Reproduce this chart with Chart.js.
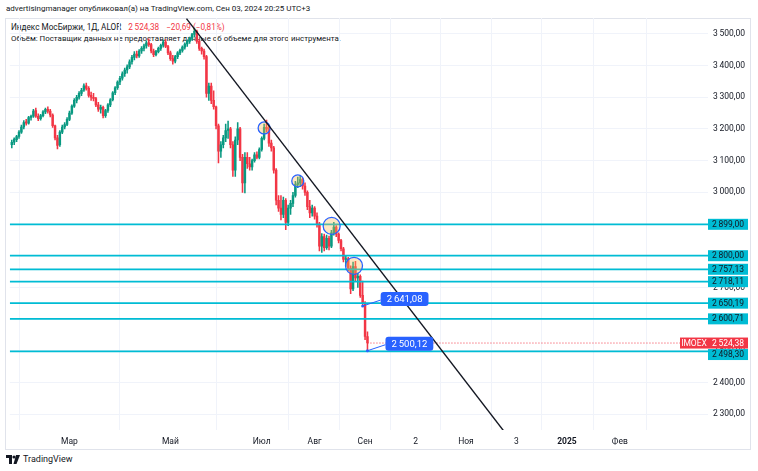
<!DOCTYPE html>
<html><head><meta charset="utf-8">
<script src="https://cdn.jsdelivr.net/npm/chart.js@4"></script>
<style>
html,body{margin:0;padding:0;background:#fff;}
#wrap{position:relative;width:758px;height:471px;overflow:hidden;font-family:Roboto,"Noto Sans",sans-serif;}
canvas{position:absolute;left:0;top:0;z-index:2}
.t{position:absolute;white-space:nowrap;color:#131722;z-index:1;line-height:1}
</style></head><body>
<div id="wrap">
<div class="t" style="left:6px;top:5px;font-size:8px">advertisingmanager опубликовал(а) на TradingView.com, Сен 03, 2024 20:25 UTC+3</div>
<div class="t" style="left:11px;top:23px;font-size:8.2px">Индекс МосБиржи, 1Д, ALOR<span style="color:#f23645;margin-left:7px">2&#8201;524,38</span><span style="color:#f23645;margin-left:7px">−20,69 (−0,81%)</span></div>
<div class="t" style="left:11px;top:35px;font-size:7.9px">Объём: Поставщик данных не предоставляет данные об объеме для этого инструмента.</div>
<div class="t" style="left:6px;top:455px;font-size:9px;display:flex;align-items:center;gap:3px">
<svg width="14" height="9" viewBox="0 0 14 9"><rect x="0" y="0" width="6" height="3" fill="#131722"/><rect x="3" y="0" width="3" height="9" fill="#131722"/><circle cx="8" cy="2" r="1.6" fill="#131722"/><polygon points="10,0 14,0 10.5,9 7.5,9" fill="#131722"/></svg><span>TradingView</span></div>
<canvas id="c" width="758" height="471"></canvas>
</div>
<script>
// ---- data ----
const opens  = [3150,3158,3166,3176,3190,3206,3222,3218,3236,3240,3258,3240,3232,3242,3254,3262,3256,3244,3210,3172,
3150,3190,3206,3214,3230,3250,3272,3290,3300,3312,3322,3336,3328,3306,3300,3296,3276,3262,3268,3242,
3258,3276,3292,3314,3330,3348,3360,3374,3386,3396,3412,3426,3436,3430,3446,3454,3462,3472,3466,3446,
3434,3444,3454,3464,3474,3460,3440,3422,3414,3428,3440,3448,3458,3468,3476,3486,3498,3508,3476,3454,
3446,3428,3312,3335,3290,3270,3210,3130,3150,3172,3195,3200,3150,3070,3165,3200,3110,3030,3110,3090,
3080,3100,3118,3110,3135,3170,3205,3200,3155,3140,3070,2975,2950,2930,2975,2905,2950,2965,2990,3025,
3030,3040,3020,3000,2955,2935,2950,2925,2900,2830,2860,2825,2855,2830,2872,2890,2868,2848,2822,2788,
2790,2760,2695,2766,2730,2735,2675,2650,2545.07];
const highs  = [3165,3172,3180,3195,3212,3226,3230,3240,3244,3262,3266,3248,3246,3258,3266,3270,3262,3248,3212,3180,
3195,3212,3220,3236,3256,3276,3296,3306,3318,3328,3342,3345,3334,3316,3312,3300,3284,3275,3272,3262,
3280,3296,3318,3334,3352,3366,3380,3392,3402,3418,3432,3444,3446,3450,3460,3468,3478,3484,3470,3452,
3448,3458,3468,3480,3482,3464,3446,3432,3432,3444,3452,3462,3472,3480,3490,3502,3518,3512,3482,3458,
3452,3432,3345,3345,3320,3272,3215,3160,3180,3215,3225,3205,3160,3175,3220,3205,3120,3125,3125,3110,
3105,3125,3128,3140,3175,3215,3228,3210,3165,3145,3075,2990,2990,2985,2980,2960,2975,3000,3035,3048,
3052,3045,3030,3005,2975,2960,2955,2935,2905,2870,2868,2865,2862,2880,2905,2895,2872,2852,2826,2798,
2795,2768,2780,2782,2745,2740,2720,2655,2560];
const lows   = [3140,3150,3160,3170,3186,3200,3212,3215,3228,3236,3236,3226,3228,3238,3248,3250,3238,3205,3165,3137,
3145,3185,3200,3210,3226,3246,3268,3282,3294,3305,3318,3322,3300,3290,3288,3270,3255,3250,3235,3236,
3252,3270,3288,3308,3325,3340,3354,3366,3376,3390,3404,3418,3424,3426,3438,3446,3455,3460,3440,3428,
3430,3440,3448,3458,3456,3434,3416,3404,3408,3422,3434,3442,3452,3460,3470,3480,3490,3470,3448,3436,
3420,3300,3290,3280,3262,3200,3093,3110,3140,3160,3170,3140,3050,3050,3150,3100,3000,2998,3075,3070,
3070,3095,3105,3105,3130,3165,3190,3145,3130,3060,2960,2940,2913,2920,2882,2895,2930,2955,2985,3015,
3018,3010,2990,2945,2920,2925,2915,2890,2815,2810,2815,2820,2818,2825,2865,2860,2840,2815,2780,2766,
2752,2680,2690,2720,2700,2668,2641.08,2535,2500.12];
const closes = [3158,3168,3176,3190,3206,3220,3218,3236,3240,3256,3240,3232,3242,3254,3262,3256,3244,3210,3172,3148,
3190,3206,3214,3230,3250,3272,3290,3300,3312,3322,3336,3328,3306,3300,3296,3276,3262,3268,3242,3258,
3276,3292,3314,3330,3348,3360,3374,3386,3396,3412,3426,3436,3430,3446,3454,3462,3472,3466,3446,3434,
3444,3454,3464,3474,3460,3440,3422,3414,3428,3440,3448,3458,3468,3476,3486,3498,3508,3476,3454,3446,
3428,3312,3335,3290,3270,3210,3130,3150,3172,3195,3200,3150,3070,3165,3200,3110,3030,3110,3090,3080,
3100,3118,3110,3135,3170,3205,3200,3155,3140,3070,2975,2950,2930,2975,2905,2950,2965,2990,3025,3030,
3040,3020,3000,2955,2935,2950,2925,2900,2830,2860,2825,2855,2830,2872,2890,2868,2848,2822,2788,2790,
2760,2695,2766,2730,2735,2675,2650,2545.07,2524.38];

const levels = [2899.00, 2800.00, 2757.13, 2718.11, 2650.19, 2600.71, 2498.30];
const lastPrice = 2524.38;
const symbolName = 'IMOEX';
const trendX = [72.7, 205];
const trendY = [3548, 2244];
const circleX = [105.0, 119.0, 133.1, 142.4];
const circleY = [3203, 3036, 2894, 2768];
const calloutX = [146, 148];
const calloutY = [2641.08, 2500.12];
const monthTickX = [24, 66, 104, 126, 147, 168, 189, 210, 231, 253];
const monthTickLabels = ['Мар','Май','Июл','Авг','Сен','2','Ноя','3','2025','Фев'];
const priceTicks = [2300,2400,2500,2600,2700,2800,2900,3000,3100,3200,3300,3400,3500];

// ---- helpers ----
const X_MIN = -0.83, X_MAX = 289.7, Y_MIN = 2250, Y_MAX = 3550;
const UP = '#089981', DOWN = '#f23645', CYAN = '#00bcd4', BLUE = '#2962ff';
function fmt(n){
  const s = n.toFixed(2).replace('.', ',');
  const [i, d] = s.split(',');
  const ii = i.length > 3 ? i.slice(0, i.length-3) + '\u2009' + i.slice(-3) : i;
  return ii + ',' + d;
}
const FONT = 'Roboto, "Noto Sans", sans-serif';
const candleColors = closes.map((c, i) => c >= opens[i] ? UP : DOWN);

const datasets = [];
datasets.push({
  type:'line', order:1, data: trendX.map((x,i)=>({x, y:trendY[i]})),
  borderColor:'#131722', borderWidth:1.4, pointRadius:0, tension:0
});
datasets.push({
  type:'scatter', order:2, data: circleX.map((x,i)=>({x, y:circleY[i]})),
  pointRadius:[6,6,8.5,8.5], pointBackgroundColor:'rgba(255,183,77,0.35)',
  pointBorderColor:BLUE, pointBorderWidth:1.3
});
levels.forEach(lv => datasets.push({
  type:'line', order:3, data:[{x:X_MIN,y:lv},{x:X_MAX,y:lv}],
  borderColor:CYAN, borderWidth:1.8, pointRadius:0
}));
datasets.push({
  type:'line', order:4, data:[{x:closes.length-1,y:lastPrice},{x:X_MAX,y:lastPrice}],
  borderColor:DOWN, borderWidth:1, borderDash:[1,2], pointRadius:0
});
datasets.push({
  type:'bar', order:5, grouped:false, barThickness:1.8, minBarLength:1,
  data: opens.map((o,i)=>({x:i, y:[o, closes[i]]})),
  backgroundColor: candleColors, borderWidth:0
});
datasets.push({
  type:'bar', order:6, grouped:false, barThickness:0.9,
  data: lows.map((l,i)=>({x:i, y:[l, highs[i]]})),
  backgroundColor: candleColors, borderWidth:0
});

const overlay = {
  id:'overlay',
  beforeDraw(chart){
    const {ctx} = chart;
    ctx.save();
    ctx.strokeStyle = '#e0e3eb'; ctx.lineWidth = 1;
    ctx.strokeRect(5.5, 18.5, 745, 431);
    ctx.restore();
  },
  afterDraw(chart){
    const {ctx, chartArea:a, scales:{x, y}} = chart;
    ctx.save();
    ctx.font = '8.5px ' + FONT;
    ctx.textBaseline = 'middle';
    ctx.textAlign = 'center';
    const H = 11;
    const py = y.getPixelForValue(lastPrice);
    levels.forEach(lv => {
      let ly = y.getPixelForValue(lv);
      if (Math.abs(ly - py) < H) ly = ly > py ? py + H + 0.5 : py - H - 0.5;
      ctx.fillStyle = CYAN;
      ctx.fillRect(a.right, ly - H/2, 40, H);
      ctx.fillStyle = '#131722';
      ctx.fillText(fmt(lv), a.right + 20, ly + 0.5);
    });
    ctx.fillStyle = DOWN;
    ctx.fillRect(a.right, py - H/2, 40, H);
    ctx.fillRect(a.right - 28, py - H/2, 28, H);
    ctx.fillStyle = '#fff';
    ctx.fillText(fmt(lastPrice), a.right + 20, py + 0.5);
    ctx.fillText(symbolName, a.right - 14, py + 0.5);
    ctx.font = '9.5px ' + FONT;
    calloutX.forEach((cx, i) => {
      const ax = x.getPixelForValue(cx), ay = y.getPixelForValue(calloutY[i]);
      const txt = fmt(calloutY[i]);
      const w = ctx.measureText(txt).width + 12, h = 14;
      const bx = ax + 18, by = ay - 14;
      ctx.strokeStyle = BLUE; ctx.lineWidth = 1;
      ctx.beginPath(); ctx.moveTo(ax, ay); ctx.lineTo(bx, by + h/2 + 1); ctx.stroke();
      ctx.fillStyle = BLUE;
      ctx.beginPath(); ctx.arc(ax, ay, 1.5, 0, Math.PI*2); ctx.fill();
      ctx.beginPath();
      if (ctx.roundRect) ctx.roundRect(bx, by, w, h, 3); else ctx.rect(bx, by, w, h);
      ctx.fill();
      ctx.fillStyle = '#fff';
      ctx.fillText(txt, bx + w/2, by + h/2 + 0.5);
    });
    ctx.restore();
  }
};

new Chart(document.getElementById('c'), {
  data:{ datasets },
  options:{
    responsive:false, animation:false, devicePixelRatio:1,
    layout:{ padding:{ left:5, top:18, right:0, bottom:19 } },
    plugins:{ legend:{display:false}, tooltip:{enabled:false} },
    scales:{
      x:{
        type:'linear', min:X_MIN, max:X_MAX, offset:false,
        afterBuildTicks: ax => { ax.ticks = monthTickX.map(v => ({value:v})); },
        afterFit: ax => { ax.height = 22; },
        grid:{ color:'#f0f3fa', drawTicks:false },
        border:{ display:false },
        ticks:{
          autoSkip:false, maxRotation:0, padding:7, color:'#131722',
          font: c => ({ size:8.5, family:FONT, weight: (c.tick && c.tick.label === '2025') ? 'bold' : 'normal' }),
          callback: v => { const k = monthTickX.indexOf(v); return k >= 0 ? monthTickLabels[k] : ''; }
        }
      },
      y:{
        type:'linear', position:'right', min:Y_MIN, max:Y_MAX,
        afterBuildTicks: ax => { ax.ticks = priceTicks.map(v => ({value:v})); },
        afterFit: ax => { ax.width = 50; },
        grid:{ color:'#f0f3fa', drawTicks:false },
        border:{ display:false },
        ticks:{ padding:5, color:'#131722', font:{ size:8.5, family:FONT }, callback: v => fmt(v) }
      }
    }
  },
  plugins:[overlay]
});
</script>
</body></html>
